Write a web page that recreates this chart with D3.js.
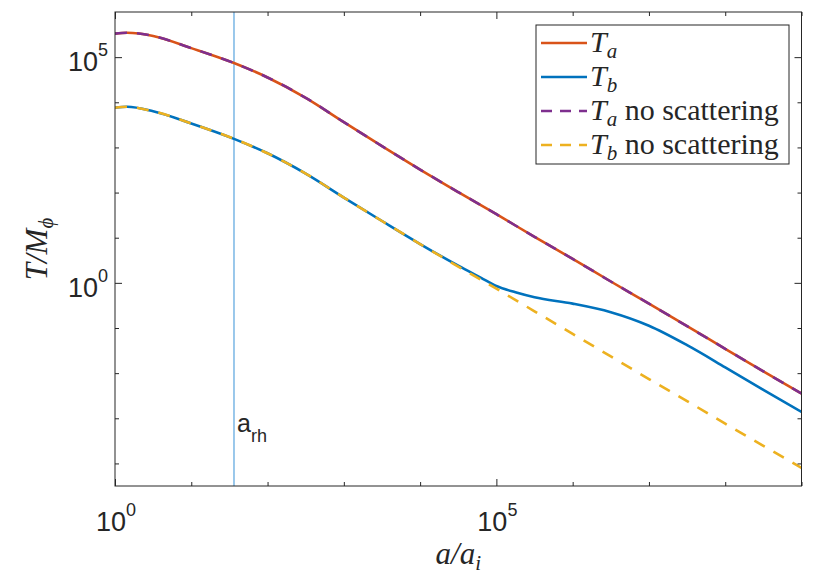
<!DOCTYPE html>
<html>
<head>
<meta charset="utf-8">
<script src="https://cdn.jsdelivr.net/npm/d3@7"></script>
<style>
  body { margin: 0; background: #fff; }
  text { fill: #262626; }
</style>
</head>
<body>
<svg id="chart" width="830" height="575"></svg>
<script>
// All values are log10 readings.
// x: log10(a/a_i)
const logA = [0, 0.16, 0.5, 1, 1.56, 2, 2.5, 3, 3.5, 4, 4.5, 5, 5.5, 6, 6.5, 7, 7.5, 8, 8.5, 9];
const logTaNoScat = [5.52, 5.54, 5.47, 5.20, 4.87, 4.55, 4.10, 3.56, 3.03, 2.51, 2.01, 1.52, 1.02, 0.53, 0.03, -0.46, -0.96, -1.46, -1.96, -2.45];
const logTa = [5.52, 5.54, 5.47, 5.20, 4.87, 4.55, 4.10, 3.56, 3.03, 2.51, 2.01, 1.52, 1.02, 0.53, 0.03, -0.46, -0.96, -1.46, -1.96, -2.45];
const logTbNoScat = [3.88, 3.90, 3.80, 3.53, 3.19, 2.87, 2.42, 1.89, 1.37, 0.86, 0.36, -0.13, -0.63, -1.13, -1.63, -2.13, -2.62, -3.12, -3.61, -4.10];

// T_b with scattering leaves the no-scattering line near a ~ 1e5
const logAb = [0, 0.16, 0.5, 1, 1.56, 2, 2.5, 3, 3.5, 4, 4.5, 4.8, 5, 5.25, 5.5, 6, 6.5, 7, 7.5, 8, 8.5, 9];
const logTb = [3.88, 3.90, 3.80, 3.53, 3.19, 2.87, 2.42, 1.89, 1.37, 0.86, 0.38, 0.11, -0.07, -0.21, -0.32, -0.46, -0.65, -0.95, -1.38, -1.87, -2.37, -2.86];

const logARh = 1.56; // a_rh marker

const xMajor = [0, 5];
const xMinor = [1, 2, 3, 4, 6, 7, 8, 9];
const yMajor = [0, 5];
const yMinor = [-4, -3, -2, -1, 1, 2, 3, 4];

const series = [
  { label: ['T', 'a', ''], xs: logA, ys: logTa, color: '#D95319', dash: null },
  { label: ['T', 'b', ''], xs: logAb, ys: logTb, color: '#0072BD', dash: null },
  { label: ['T', 'a', 'no scattering'], xs: logA, ys: logTaNoScat, color: '#7E2F8E', dash: '12,10' },
  { label: ['T', 'b', 'no scattering'], xs: logA, ys: logTbNoScat, color: '#EDB120', dash: '12,10' },
];

const svg = d3.select('#chart');
const plotL = 115, plotR = 801.5, plotT = 12, plotB = 486;

const x = d3.scaleLog().domain([1, 1e9]).range([plotL, plotR]);
const y = d3.scaleLog().domain([Math.pow(10, -4.5), 1e6]).range([plotB, plotT]);
const p10 = (v) => Math.pow(10, v);

svg.append('defs').append('clipPath').attr('id', 'plot-clip')
  .append('rect')
  .attr('x', plotL).attr('y', plotT)
  .attr('width', plotR - plotL).attr('height', plotB - plotT);

// a_rh vertical line
svg.append('line')
  .attr('x1', x(p10(logARh))).attr('x2', x(p10(logARh)))
  .attr('y1', plotT).attr('y2', plotB)
  .attr('stroke', '#58A4DE')
  .attr('stroke-width', 1.2);

const rhLabel = svg.append('text')
  .attr('x', x(p10(logARh)) + 3)
  .attr('y', 432)
  .style('font-family', 'Liberation Sans, Arial, sans-serif')
  .style('font-size', '25px');
rhLabel.append('tspan').text('a');
rhLabel.append('tspan').attr('dy', 10).style('font-size', '18px').text('rh');

// curves
const line = d3.line()
  .x((d) => x(p10(d[0])))
  .y((d) => y(p10(d[1])))
  .curve(d3.curveMonotoneX);

const plot = svg.append('g').attr('clip-path', 'url(#plot-clip)');
series.forEach((s) => {
  plot.append('path')
    .datum(s.xs.map((v, i) => [v, s.ys[i]]))
    .attr('d', line)
    .attr('fill', 'none')
    .attr('stroke', s.color)
    .attr('stroke-width', 2.6)
    .attr('stroke-dasharray', s.dash);
});

// ticks (inward, on all four sides)
const tickStyle = (g) => {
  g.select('.domain').remove();
  g.selectAll('.tick line').attr('stroke', '#262626').attr('stroke-width', 1);
  g.selectAll('.tick text').remove();
};
const drawXTicks = (vals, len) => {
  const tv = vals.map(p10);
  svg.append('g').attr('transform', `translate(0,${plotB})`)
    .call(d3.axisBottom(x).tickValues(tv).tickSize(-len)).call(tickStyle);
  svg.append('g').attr('transform', `translate(0,${plotT})`)
    .call(d3.axisTop(x).tickValues(tv).tickSize(-len)).call(tickStyle);
};
const drawYTicks = (vals, len) => {
  const tv = vals.map(p10);
  svg.append('g').attr('transform', `translate(${plotL},0)`)
    .call(d3.axisLeft(y).tickValues(tv).tickSize(-len)).call(tickStyle);
  svg.append('g').attr('transform', `translate(${plotR},0)`)
    .call(d3.axisRight(y).tickValues(tv).tickSize(-len)).call(tickStyle);
};
drawXTicks(xMajor, 7);
drawXTicks(xMinor, 4);
drawYTicks(yMajor, 7);
drawYTicks(yMinor, 4);

// frame
svg.append('rect')
  .attr('x', plotL).attr('y', plotT)
  .attr('width', plotR - plotL).attr('height', plotB - plotT)
  .attr('fill', 'none')
  .attr('stroke', '#262626')
  .attr('stroke-width', 1);

// tick labels as 10^n
const powLabel = (sel, exp) => {
  sel.style('font-family', 'Liberation Sans, Arial, sans-serif').style('font-size', '27px');
  sel.append('tspan').text('10');
  sel.append('tspan').attr('dy', -15).style('font-size', '18px').text(exp);
};
xMajor.forEach((e) => {
  svg.append('text')
    .attr('x', x(p10(e)) + 1).attr('y', 531)
    .attr('text-anchor', 'middle')
    .call(powLabel, e);
});
yMajor.forEach((e) => {
  svg.append('text')
    .attr('x', plotL - 7).attr('y', y(p10(e)) + 14)
    .attr('text-anchor', 'end')
    .call(powLabel, e);
});

// axis titles
const serif = 'Liberation Serif, DejaVu Serif, serif';
const xt = svg.append('text')
  .attr('x', (plotL + plotR) / 2).attr('y', 564)
  .attr('text-anchor', 'middle')
  .style('font-family', serif).style('font-style', 'italic').style('font-size', '31px');
xt.append('tspan').text('a/a');
xt.append('tspan').attr('dy', 6).style('font-size', '21px').text('i');

const yt = svg.append('text')
  .attr('transform', `translate(47,${(plotT + plotB) / 2}) rotate(-90)`)
  .attr('text-anchor', 'middle')
  .style('font-family', serif).style('font-style', 'italic').style('font-size', '31px');
yt.append('tspan').text('T/M');
yt.append('tspan').attr('dy', 6).style('font-size', '21px').text('\u03D5');

// legend
const lg = svg.append('g');
lg.append('rect')
  .attr('x', 536).attr('y', 25)
  .attr('width', 253).attr('height', 139)
  .attr('fill', '#fff')
  .attr('stroke', '#262626')
  .attr('stroke-width', 1);
const rowY = [43, 77, 111, 145];
series.forEach((s, i) => {
  lg.append('line')
    .attr('x1', 541).attr('x2', 587)
    .attr('y1', rowY[i]).attr('y2', rowY[i])
    .attr('stroke', s.color)
    .attr('stroke-width', 2.6)
    .attr('stroke-dasharray', s.dash ? '11,8' : null);
  const t = lg.append('text')
    .attr('x', 590).attr('y', rowY[i] + 9)
    .style('font-family', serif).style('font-size', '30px');
  t.append('tspan').style('font-style', 'italic').text(s.label[0]);
  t.append('tspan').attr('dy', 6).style('font-style', 'italic').style('font-size', '21px').text(s.label[1]);
  if (s.label[2]) {
    t.append('tspan').attr('dy', -6).style('font-family', serif).text('\u00a0' + s.label[2]);
  }
});
</script>
</body>
</html>
